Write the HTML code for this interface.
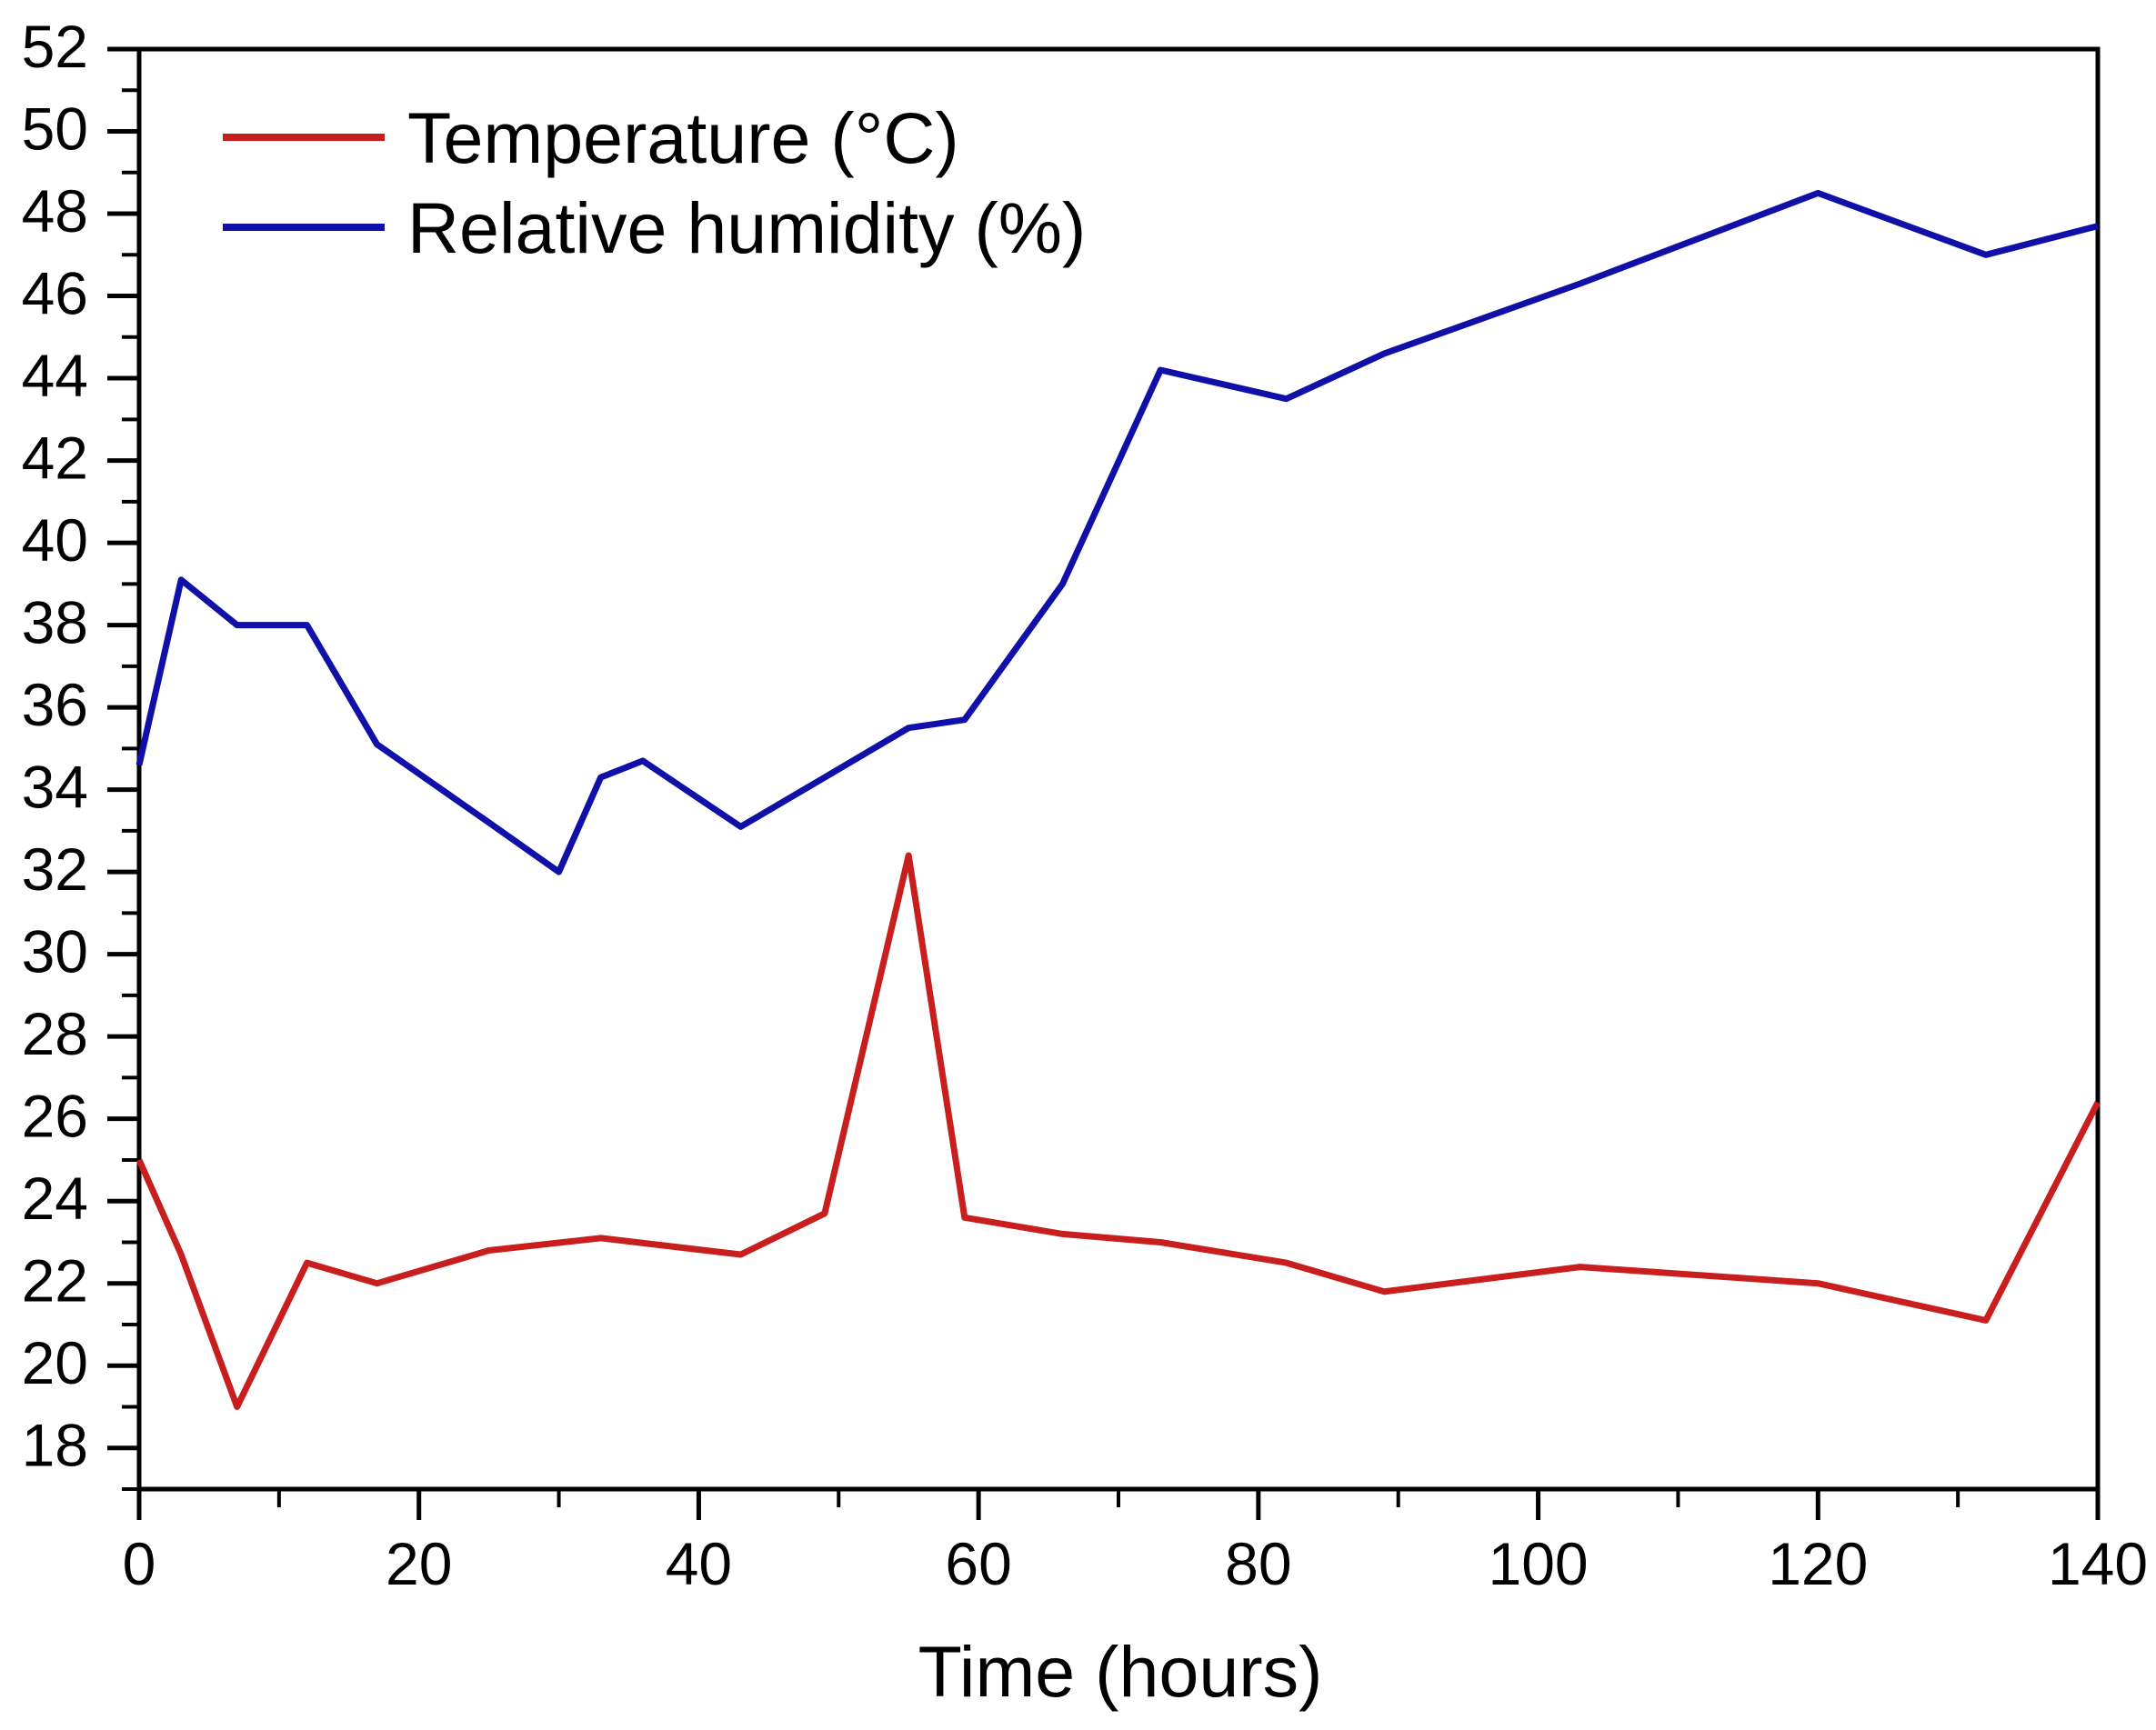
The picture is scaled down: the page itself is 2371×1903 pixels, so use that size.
<!DOCTYPE html>
<html><head><meta charset="utf-8"><style>
html,body{margin:0;padding:0;background:#fff;}
svg text{font-family:"Liberation Sans",Arial,sans-serif;fill:#000;}
</style></head><body>
<svg id="chart" width="2371" height="1898" xmlns="http://www.w3.org/2000/svg">
<g id="axes"></g>
<g id="series"></g>
<g id="legend">
  <line x1="245" y1="151" x2="423" y2="151" stroke="#c81e1e" stroke-width="8"/>
  <text x="448" y="179" font-size="79">Temperature (°C)</text>
  <line x1="245" y1="250" x2="423" y2="250" stroke="#1010a8" stroke-width="8"/>
  <text x="448" y="278" font-size="79">Relative humidity (%)</text>
</g>
<text x="1232" y="1866" font-size="79" text-anchor="middle">Time (hours)</text>
</svg>
<script>
const hoursT = [0,3,7,12,17,25,33,43,49,55,59,66,73,82,89,103,120,132,140];
const tempValues = [25,22.7,19,22.5,22,22.8,23.1,22.7,23.7,32.4,23.6,23.2,23,22.5,21.8,22.4,22,21.1,26.4];
const hoursH = [0,3,7,12,17,25,30,33,36,43,49,55,59,66,73,82,89,103,120,132,140];
const humidityValues = [34.6,39.1,38,38,35.1,33.2,32,34.3,34.7,33.1,34.3,35.5,35.7,39,44.2,43.5,44.6,46.3,48.5,47,47.7];
const xTicks = [0,20,40,60,80,100,120,140];
const yTicks = [18,20,22,24,26,28,30,32,34,36,38,40,42,44,46,48,50,52];

const NS = "http://www.w3.org/2000/svg";
const X0 = 153, X1 = 2307, YTOP = 54, YBOT = 1638;
const xMin = 0, xMax = 140, yMin = 17, yMax = 52;
function xs(v){ return X0 + (v - xMin) / (xMax - xMin) * (X1 - X0); }
function ys(v){ return YBOT - (v - yMin) / (yMax - yMin) * (YBOT - YTOP); }
function mk(tag, attrs, parent){ const e = document.createElementNS(NS, tag); for (const k in attrs) e.setAttribute(k, attrs[k]); parent.appendChild(e); return e; }

const axes = document.getElementById('axes');
const frame = mk('rect', {x:X0, y:YTOP, width:X1-X0, height:YBOT-YTOP, fill:'none', stroke:'#000', 'stroke-width':5}, axes);



xTicks.forEach(function(t){
  const l = mk('line', {x1:xs(t), x2:xs(t), y1:YBOT, y2:YBOT+34, stroke:'#000', 'stroke-width':5}, axes);
  
  
  const tx = mk('text', {x:xs(t), y:1743, 'font-size':66, 'text-anchor':'middle'}, axes);
  tx.textContent = t;
  
  
});
for (let i = 0; i < xTicks.length - 1; i++) {
  const m = (xTicks[i] + xTicks[i+1]) / 2;
  const l = mk('line', {x1:xs(m), x2:xs(m), y1:YBOT, y2:YBOT+20, stroke:'#000', 'stroke-width':4}, axes);
  
  
}
yTicks.forEach(function(t){
  const l = mk('line', {x1:X0-35, x2:X0, y1:ys(t), y2:ys(t), stroke:'#000', 'stroke-width':5}, axes);
  
  
  const tx = mk('text', {x:97, y:ys(t)+20, 'font-size':66, 'text-anchor':'end'}, axes);
  tx.textContent = t;
  
  
});
for (let v = yMin; v < yMax; v += 2) {
  const l = mk('line', {x1:X0-19, x2:X0, y1:ys(v), y2:ys(v), stroke:'#000', 'stroke-width':4}, axes);
  
  
}

const series = document.getElementById('series');
function pts(xa, ya){ return xa.map(function(x, i){ return xs(x).toFixed(1) + ',' + ys(ya[i]).toFixed(1); }).join(' '); }
const hl = mk('polyline', {points:pts(hoursH, humidityValues), fill:'none', stroke:'#1010a8', 'stroke-width':7, 'stroke-linejoin':'round'}, series);


const tl = mk('polyline', {points:pts(hoursT, tempValues), fill:'none', stroke:'#c81e1e', 'stroke-width':7, 'stroke-linejoin':'round'}, series);


</script>
</body></html>
